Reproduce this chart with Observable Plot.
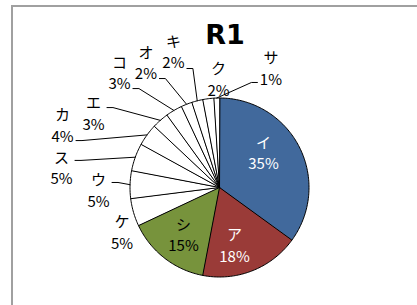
<!DOCTYPE html>
<html><head><meta charset="utf-8">
<script src="https://cdn.jsdelivr.net/npm/d3@7"></script>
<script src="https://cdn.jsdelivr.net/npm/@observablehq/plot@0.6"></script>
<style>
html,body{margin:0;padding:0;background:#fff;overflow:hidden;width:417px;height:305px;}
#wrap{position:relative;width:417px;height:305px;}
#box{position:absolute;left:11px;top:5px;width:600px;height:600px;border-left:2px solid #a0a0a0;border-top:2px solid #a0a0a0;box-sizing:border-box;}
#chart{position:absolute;left:0;top:0;}
</style></head><body>
<div id="wrap"><div id="box"></div><div id="chart"></div></div>
<script>
// ---- data ----
const chartTitle = "R1";
const categories = ["イ","ア","シ","ケ","ウ","ス","カ","エ","コ","オ","キ","ク","サ"];
const values     = [35, 18, 15, 5, 5, 5, 4, 3, 3, 2, 2, 2, 1];
const pctLabels  = ["35%","18%","15%","5%","5%","5%","4%","3%","3%","2%","2%","2%","1%"];

// ---- style ----
const sliceColors = ["#41699c","#9a3b38","#77933c","#ffffff","#ffffff","#ffffff","#ffffff","#ffffff","#ffffff","#ffffff","#ffffff","#ffffff","#ffffff"];
const labelColors = ["#ffffff","#ffffff","#000000","#000000","#000000","#000000","#000000","#000000","#000000","#000000","#000000","#000000","#000000"];
const fontFamily = "'Noto Sans CJK JP','Noto Sans',sans-serif";

// ---- layout ----
const W = 417, H = 305;
const centerPx = [219, 187], radiusPx = 89.5;
// label placement: angle (deg, clockwise from 12 o'clock) and distance in radii
const labelAngle = [50.7, 165.1, 218.0, 246.0, 269.3, 277.6, 292.0, 300.9, 319.2, 329.7, 341.4, 359.5, 23.1];
const labelDist  = [0.635, 0.653, 0.653, 1.193, 1.352, 1.781, 1.892, 1.641, 1.711, 1.630, 1.615, 1.223, 1.464];
// leader lines: side of label where line attaches (1 right, -1 left, 0 none), vertical offset in px
const leaderSide = [0, 0, 0, 0, 1, 1, 1, 1, 1, 1, 1, 0, -1];
const leaderDy   = [0, 0, 0, 0, -6.5, -6, 16.5, -4.5, 17, 17, 18, 0, 15.5];
const leaderHalfW = 13.5, leaderElbow = 6;

const k = 1 / radiusPx;
const xDomain = [-centerPx[0] * k, (W - centerPx[0]) * k];
const yDomain = [-(H - centerPx[1]) * k, centerPx[1] * k];

const arcs = d3.pie().sort(null).value(d => d)(values);
const deg = Math.PI / 180;

const sliceMarks = arcs.map((a, i) => {
  const pts = [{x: 0, y: 0}];
  const n = Math.max(2, Math.ceil((a.endAngle - a.startAngle) / deg));
  for (let j = 0; j <= n; j++) {
    const t = a.startAngle + (a.endAngle - a.startAngle) * j / n;
    pts.push({x: Math.sin(t), y: Math.cos(t)});
  }
  return Plot.line(pts, {x: "x", y: "y", fill: sliceColors[i], stroke: "#000", strokeWidth: 1, strokeLinejoin: "round", curve: "linear-closed"});
});

const labels = categories.map((c, i) => ({
  text: c + "\n" + pctLabels[i],
  x: labelDist[i] * Math.sin(labelAngle[i] * deg),
  y: labelDist[i] * Math.cos(labelAngle[i] * deg),
  color: labelColors[i]
}));

const leaders = [];
categories.forEach((c, i) => {
  if (!leaderSide[i]) return;
  const mid = (arcs[i].startAngle + arcs[i].endAngle) / 2;
  const lx = labels[i].x + leaderSide[i] * leaderHalfW * k;
  const ly = labels[i].y - leaderDy[i] * k;
  leaders.push({id: c, x: lx, y: ly});
  leaders.push({id: c, x: lx + leaderSide[i] * leaderElbow * k, y: ly});
  leaders.push({id: c, x: Math.sin(mid), y: Math.cos(mid)});
});

const chart = Plot.plot({
  width: W, height: H,
  margin: 0,
  x: {domain: xDomain, axis: null},
  y: {domain: yDomain, axis: null},
  style: {fontFamily, background: "transparent"},
  marks: [
    ...sliceMarks,
    Plot.line(leaders, {x: "x", y: "y", z: "id", stroke: "#000", strokeWidth: 1}),
    Plot.text(labels, {x: "x", y: "y", text: "text", fill: "color", fontSize: 15, lineHeight: 1.45, fontFamily}),
    Plot.text([chartTitle], {frameAnchor: "top", lineAnchor: "middle", dx: 16, dy: 35, fontSize: 27, fontWeight: 700, fontFamily: "'DejaVu Sans',sans-serif", fill: "#000", ariaLabel: "chart-title"})
  ]
});
chart.querySelectorAll('g[aria-label="chart-title"] text').forEach(t => t.setAttribute("letter-spacing", "3"));
document.getElementById("chart").appendChild(chart);
</script>
</body></html>
